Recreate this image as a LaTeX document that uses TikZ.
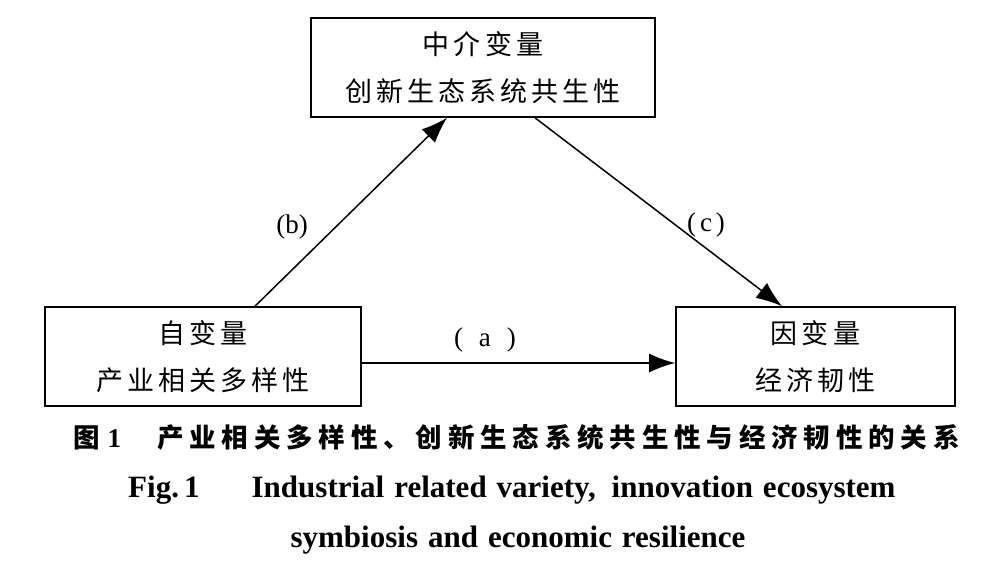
\documentclass[tikz,border=0pt]{standalone}
\usepackage{fontspec}
\setmainfont{Liberation Serif}
\newfontfamily\cjk{Noto Sans CJK SC}[LetterSpace=15]
\newfontfamily\cjkcap{Noto Sans CJK SC}[LetterSpace=22]
\usetikzlibrary{arrows.meta}
\begin{document}
\begin{tikzpicture}[x=1pt,y=-1pt,
  box/.style={draw,line width=1.6pt,rectangle,inner sep=0pt,align=center,
    font={\cjk\fontsize{27}{47}\selectfont}},
  link/.style={line width=1.5pt,-{Latex[length=26pt,width=19pt]}},
  lab/.style={font={\fontsize{27}{30}\selectfont},inner sep=0pt},
  captxt/.style={font={\bfseries\fontsize{31}{34}\selectfont\spaceskip=10pt plus 2pt minus 2pt},inner sep=0pt}]
\useasboundingbox (0,0) rectangle (992,568);
\node[box,minimum width=344pt,minimum height=99pt] (top) at (483,67.5) {中介变量\\创新生态系统共生性};
\node[box,minimum width=316pt,minimum height=99pt] (left) at (203,356.5) {自变量\\产业相关多样性};
\node[box,minimum width=279pt,minimum height=99pt] (right) at (815.5,356.5) {因变量\\经济韧性};
\draw[link] ([xshift=52pt]left.north) -- ([xshift=-36pt]top.south);
\draw[link] ([xshift=52pt]top.south) -- ([xshift=-33.5pt]right.north);
\draw[link] ([yshift=-6.5pt]left.east) -- ([yshift=-6.5pt]right.west);
\node[lab] (lb) at (292,227) {(b)};
\node[lab] (lc) at (706,225) {(\hspace{4pt}c\hspace{4pt})};
\node[lab] (la) at (485,340) {(\hspace{16pt}a\hspace{16pt})};
\node[inner sep=0pt,anchor=west,font={\cjkcap\bfseries\fontsize{26.5}{30}\selectfont}] (c1) at (73,437) {图\hspace{8pt}{\rmfamily\fontsize{27}{30}\selectfont 1}\hspace{36pt}产业相关多样性、创新生态系统共生性与经济韧性的关系};
\node[captxt,anchor=west] (c2) at (128,490) {Fig.\,1\hspace{52pt}Industrial related variety,\hspace{16pt}innovation ecosystem};
\node[captxt] (c3) at (518,540) {symbiosis and economic resilience};
\end{tikzpicture}
\end{document}
